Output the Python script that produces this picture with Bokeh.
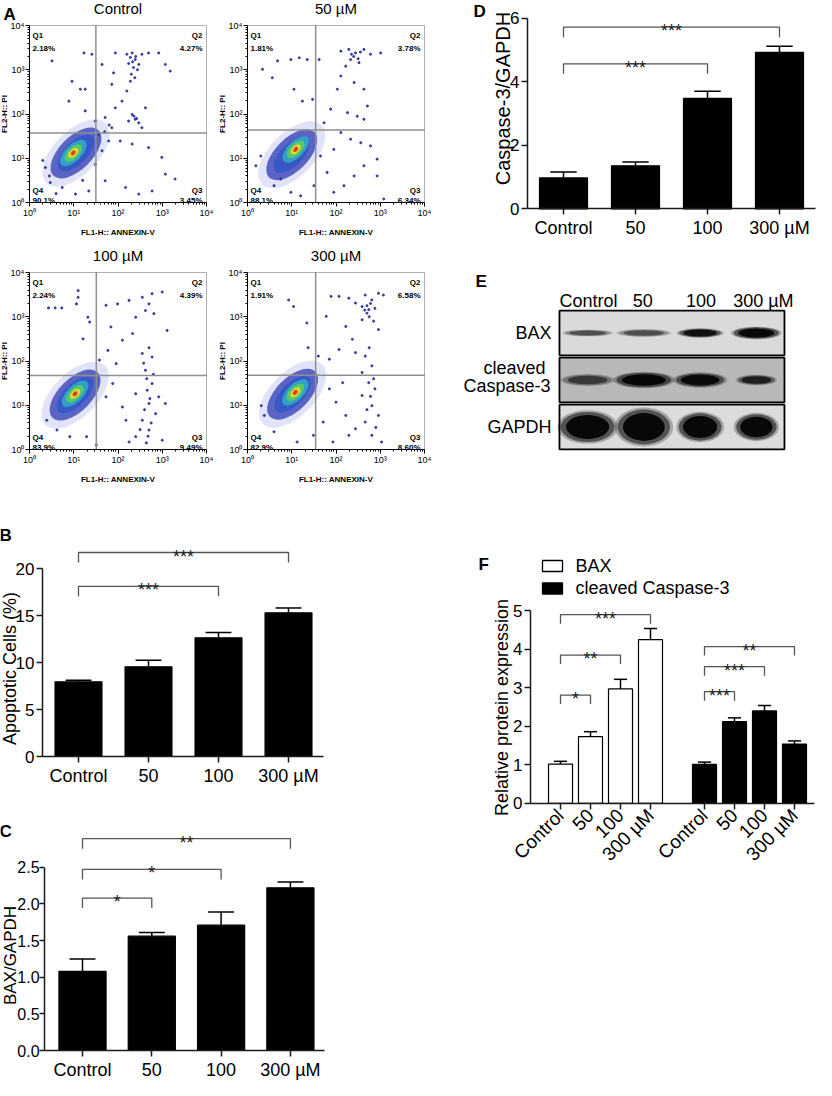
import math
from bokeh.plotting import figure
from bokeh.models import Range1d, FixedTicker, Label, Spacer, BoxAnnotation
from bokeh.layouts import row, column
from bokeh.embed import file_html
from bokeh.resources import INLINE

FONT = "Liberation Sans"

# ---------------- data ----------------
dose_labels = ["Control", "50", "100", "300 µM"]

# A: flow cytometry (log10 units)
flow_titles = ["Control", "50 µM", "100 µM", "300 µM"]
flow_q1 = ["2.18%", "1.81%", "2.24%", "1.91%"]
flow_q2 = ["4.27%", "3.78%", "4.39%", "6.58%"]
flow_q3 = ["3.45%", "6.34%", "9.49%", "8.60%"]
flow_q4 = ["90.1%", "88.1%", "83.9%", "82.9%"]
gate_x = [1.50, 1.54, 1.51, 1.54]
gate_y = [1.57, 1.64, 1.67, 1.68]
core_x = [1.05, 1.00, 1.03, 1.02]
core_y = [1.12, 1.08, 1.23, 1.25]
hot_x = [0.99, 1.09, 1.03, 1.08]
hot_y = [1.12, 1.20, 1.26, 1.29]
decade_labels = ["10⁰", "10¹", "10²", "10³", "10⁴"]

ctrl_pts = [(0.51, 3.20), (1.23, 3.38), (1.41, 3.35), (0.96, 2.74), (1.15, 2.56), (1.26, 2.56),
            (0.89, 2.29), (1.64, 3.12), (1.90, 2.93), (1.94, 3.38), (2.20, 3.35), (2.32, 3.38),
            (2.39, 3.23), (2.54, 3.35), (2.69, 3.38), (2.92, 3.38), (3.07, 3.12), (3.18, 2.97),
            (2.24, 3.14), (2.35, 3.05), (2.47, 3.12), (2.28, 2.74), (2.20, 2.52), (1.86, 2.67),
            (2.09, 2.29), (2.32, 1.99), (2.39, 1.88), (2.47, 1.80), (2.24, 1.84), (2.54, 1.69),
            (2.62, 2.14), (1.94, 2.14), (1.71, 1.92), (1.86, 1.69), (2.05, 1.39), (2.32, 1.32),
            (2.69, 1.24), (2.99, 1.02), (3.07, 0.64), (3.29, 0.53), (2.77, 0.26), (2.47, 0.19),
            (2.17, 0.34), (1.71, 0.49), (1.49, 0.86), (1.64, 1.17), (1.79, 1.39), (1.04, 0.19),
            (0.74, 0.34), (1.34, 0.26), (0.47, 0.45), (0.36, 0.79), (1.56, 1.54), (1.49, 1.84),
            (1.26, 2.07), (2.28, 3.28), (2.40, 3.30), (2.33, 3.18), (2.44, 3.00), (2.30, 2.90),
            (2.38, 2.82), (2.36, 1.95), (2.42, 1.90), (0.30, 0.95), (0.45, 0.60), (1.70, 1.60),
            (1.80, 1.75), (0.60, 0.20), (1.20, 0.50)]
d50_pts = [(0.34, 3.01), (0.56, 2.82), (0.68, 3.20), (0.98, 3.23), (1.17, 3.27), (1.35, 3.23),
           (1.62, 3.23), (1.05, 2.56), (1.24, 2.29), (1.47, 2.33), (2.11, 3.42), (2.29, 3.46),
           (2.44, 3.38), (2.63, 3.46), (2.78, 3.35), (3.01, 3.38), (2.33, 3.23), (2.52, 3.16),
           (2.22, 3.08), (2.11, 2.86), (2.03, 2.56), (2.41, 2.71), (2.63, 2.56), (2.71, 2.18),
           (2.48, 1.95), (2.63, 1.88), (2.26, 2.03), (1.88, 2.11), (1.73, 1.80), (2.11, 1.58),
           (2.33, 1.43), (2.56, 1.35), (2.78, 1.28), (2.93, 0.98), (2.63, 0.83), (2.41, 0.60),
           (2.18, 0.38), (1.95, 0.23), (1.80, 0.68), (1.65, 1.05), (1.95, 1.20), (1.50, 0.38),
           (1.20, 0.15), (0.98, 0.23), (0.19, 0.83), (0.30, 1.05), (0.60, 0.38), (0.75, 0.53),
           (2.93, 0.60), (3.08, 0.08), (2.40, 3.30), (2.50, 3.25), (2.35, 3.35), (2.55, 3.40)]
d100_pts = [(0.43, 3.20), (0.58, 3.20), (0.73, 3.20), (1.10, 3.59), (1.10, 3.44), (1.06, 3.29),
            (1.21, 2.50), (1.32, 2.99), (1.36, 2.88), (1.73, 3.26), (1.99, 3.29), (2.25, 3.37),
            (2.55, 3.44), (2.77, 3.52), (3.00, 3.56), (2.70, 3.29), (2.62, 3.14), (2.81, 3.07),
            (2.40, 2.99), (3.11, 2.69), (1.84, 2.77), (2.33, 2.62), (2.10, 2.47), (1.77, 2.24),
            (1.58, 2.02), (1.96, 1.94), (2.55, 2.17), (2.77, 2.09), (2.62, 1.79), (2.77, 1.49),
            (2.66, 1.34), (2.92, 1.19), (2.70, 1.04), (2.85, 0.81), (2.55, 0.66), (2.70, 0.44),
            (2.40, 0.29), (2.25, 0.17), (3.00, 0.21), (2.10, 0.96), (1.88, 1.49), (1.73, 1.19),
            (2.18, 0.66), (2.40, 1.26), (3.07, 1.04), (0.39, 0.66), (0.91, 0.29), (0.62, 0.44),
            (1.29, 0.29), (1.51, 0.10), (2.65, 1.60), (2.72, 1.15), (2.60, 0.90), (2.75, 0.60),
            (2.68, 0.30), (2.58, 1.95), (2.80, 1.70), (2.70, 2.30), (2.64, 0.15), (2.50, 0.45)]
d300_pts = [(0.93, 3.38), (1.04, 3.23), (1.34, 2.86), (1.37, 2.30), (1.60, 2.11), (1.78, 3.01),
            (1.89, 3.46), (2.07, 3.46), (2.29, 3.42), (2.44, 3.31), (2.59, 3.23), (2.66, 3.49),
            (2.81, 3.38), (2.96, 3.53), (3.07, 3.49), (2.70, 3.08), (2.59, 2.93), (2.74, 3.16),
            (2.88, 3.19), (2.22, 2.78), (2.37, 2.49), (2.07, 2.26), (1.85, 2.04), (2.44, 2.19),
            (2.66, 2.11), (2.81, 1.89), (2.59, 1.74), (2.74, 1.51), (2.88, 1.37), (2.59, 1.22),
            (2.81, 0.99), (2.96, 0.77), (2.66, 0.62), (2.44, 0.47), (2.81, 0.32), (3.03, 0.17),
            (2.22, 0.77), (2.00, 1.07), (1.85, 1.37), (2.15, 1.51), (2.29, 0.32), (1.93, 0.17),
            (1.71, 0.62), (1.49, 0.32), (1.12, 0.17), (0.38, 0.77), (0.31, 0.99), (0.60, 0.40),
            (2.96, 2.71), (2.70, 3.25), (2.78, 3.30), (2.65, 3.15), (2.75, 3.00), (2.85, 2.90),
            (2.78, 1.20), (2.85, 1.60), (2.70, 0.90), (2.90, 0.50), (2.75, 2.30)]
flow_points = [ctrl_pts, d50_pts, d100_pts, d300_pts]

# B: apoptotic cells (%)
apop_mean = [7.95, 9.54, 12.63, 15.29]
apop_sem = [0.15, 0.70, 0.57, 0.51]
apop_sig = [(0, 2, 18.1, "***"), (0, 3, 21.7, "***")]

# C: BAX/GAPDH
baxr_mean = [1.08, 1.56, 1.71, 2.22]
baxr_sem = [0.17, 0.05, 0.18, 0.08]
baxr_sig = [(0, 1, 2.08, "*"), (0, 2, 2.47, "*"), (0, 3, 2.89, "**")]

# D: Caspase-3/GAPDH
caspr_mean = [0.97, 1.35, 3.47, 4.92]
caspr_sem = [0.19, 0.12, 0.23, 0.19]
caspr_sig = [(0, 2, 4.56, "***"), (0, 3, 5.71, "***")]

# E: western blot band appearance (lane-width / row-height fractions, intensity)
blot_rows = ["BAX", "cleaved Caspase-3", "GAPDH"]
bax_band_w = [0.82, 0.89, 0.75, 0.80]
bax_band_h = [0.13, 0.15, 0.18, 0.24]
bax_band_i = [0.50, 0.50, 0.90, 1.00]
casp_band_w = [0.88, 0.98, 0.86, 0.66]
casp_band_h = [0.23, 0.31, 0.29, 0.20]
casp_band_i = [0.55, 1.00, 0.95, 0.75]
gapdh_band_w = [0.96, 0.93, 0.76, 0.72]
gapdh_band_h = [0.64, 0.74, 0.58, 0.54]
gapdh_band_i = [1.0, 1.0, 1.0, 1.0]
blot_bg = ["#dadada", "#b8b8b8", "#dcdcdc"]

# F: relative protein expression
rel_bax_mean = [1.02, 1.73, 2.97, 4.25]
rel_bax_sem = [0.07, 0.13, 0.25, 0.29]
rel_casp_mean = [1.01, 2.12, 2.40, 1.54]
rel_casp_sem = [0.06, 0.10, 0.14, 0.08]
rel_bax_sig = [(0, 1, 2.81, "*"), (0, 2, 3.85, "**"), (0, 3, 4.90, "***")]
rel_casp_sig = [(0, 1, 2.90, "***"), (0, 2, 3.55, "***"), (0, 3, 4.07, "**")]
legend_names = ["BAX", "cleaved Caspase-3"]


# ---------------- helpers ----------------
def fig_at(w, h, X0, Y0, xmap, ymap, axes=True):
    """Figure whose frame fills the whole canvas; xmap/ymap = (data value, page px, px per unit)."""
    dx, P0, sx = xmap
    dy, Q0, sy = ymap
    xr = (dx + (X0 - P0) / sx, dx + (X0 + w - P0) / sx)
    yr = (dy + (Q0 - (Y0 + h)) / sy, dy + (Q0 - Y0) / sy)
    kw = {} if axes else dict(x_axis_location=None, y_axis_location=None)
    p = figure(width=w, height=h, x_range=Range1d(*xr), y_range=Range1d(*yr),
               output_backend="svg", toolbar_location=None,
               min_border_left=0, min_border_right=0, min_border_top=0, min_border_bottom=0,
               **kw)
    p.grid.visible = False
    p.outline_line_color = None
    p.background_fill_color = "white"
    p.border_fill_color = "white"

    def fx(X):
        return dx + (X - P0) / sx

    def fy(Y):
        return dy + (Q0 - Y) / sy
    return p, fx, fy


def lab(p, x, y, text, size="18px", align="center", baseline="middle", bold=False,
        angle=0.0, xo=0, yo=0, color="black"):
    p.add_layout(Label(x=x, y=y, x_offset=xo, y_offset=yo, text=text, angle=angle,
                       text_font=FONT, text_font_size=size, text_align=align,
                       text_baseline=baseline, text_color=color,
                       text_font_style="bold" if bold else "normal"))


def style_axes(p, xticks, xlabels, xbounds, yticks, ylabels, ybounds,
               xsize="18px", ysize="17px", orient=None, ystandoff=2, ytick=6):
    xa, ya = p.xaxis[0], p.yaxis[0]
    xa.fixed_location = 0
    ya.fixed_location = xbounds[0]
    xa.ticker = FixedTicker(ticks=xticks)
    xa.major_label_overrides = {t: s for t, s in zip(xticks, xlabels)}
    ya.ticker = FixedTicker(ticks=yticks)
    ya.major_label_overrides = {t: s for t, s in zip(yticks, ylabels)}
    xa.bounds = xbounds
    ya.bounds = ybounds
    for ax in (xa, ya):
        ax.axis_line_color = "#1a1a1a"
        ax.axis_line_width = 1.5
        ax.major_tick_line_color = "#1a1a1a"
        ax.major_tick_line_width = 1.5
        ax.major_tick_out = 6
        ax.major_tick_in = 0
        ax.minor_tick_line_color = None
        ax.major_label_text_font = FONT
        ax.major_label_text_color = "black"
    ya.major_tick_out = ytick
    xa.major_label_standoff = 3
    ya.major_label_standoff = ystandoff
    xa.major_label_text_font_size = xsize
    ya.major_label_text_font_size = ysize
    if orient is not None:
        xa.major_label_orientation = orient


def draw_bars(p, xs, means, sems, bw, fill, sig, ypx, drop_px=10.0):
    p.vbar(x=xs, top=means, bottom=0, width=bw, fill_color=fill,
           line_color="black", line_width=1.2)
    tops = [m + s for m, s in zip(means, sems)]
    p.segment(x0=xs, y0=means, x1=xs, y1=tops, line_color="black", line_width=1.5)
    cw = bw * 0.55
    p.segment(x0=[x - cw / 2 for x in xs], y0=tops, x1=[x + cw / 2 for x in xs], y1=tops,
              line_color="black", line_width=1.5)
    drop = drop_px / ypx
    for i, j, lev, st in sig:
        p.line([xs[i], xs[i], xs[j], xs[j]], [lev - drop, lev, lev, lev - drop],
               line_color="#555555", line_width=1.3)
        lab(p, (xs[i] + xs[j]) / 2, lev, st, size="18px", baseline="alphabetic",
            yo=-4, color="#222222")


# ---------------- A: flow panels ----------------
SC = 44.25
decades = [0, 1, 2, 3, 4]
minor = [d + math.log10(k) for d in range(4) for k in range(2, 10)]
core_layers = [  # (width, height, color, alpha, centred on hot spot)
    (1.90, 1.00, "#5a66d6", 0.18, False),
    (1.45, 0.74, "#2433b0", 0.72, False),
    (1.05, 0.50, "#2f55c8", 0.80, False),
    (0.76, 0.37, "#2fb5c8", 0.78, True),
    (0.50, 0.26, "#5fd05a", 0.85, True),
    (0.28, 0.16, "#e8dc30", 0.92, True),
    (0.13, 0.09, "#ee3a1c", 1.00, True),
]


def flow_fig(i, w, h, X0, Y0, left_px, bottom_px, letter=None):
    p, fx, fy = fig_at(w, h, X0, Y0, (0, left_px, SC), (0, bottom_px, SC))
    xa, ya = p.xaxis[0], p.yaxis[0]
    xa.fixed_location = 0
    ya.fixed_location = 0
    for ax in (xa, ya):
        ax.bounds = (0, 4)
        ax.ticker = FixedTicker(ticks=decades, minor_ticks=minor)
        ax.major_label_overrides = {d: s for d, s in zip(decades, decade_labels)}
        ax.axis_line_color = "black"
        ax.major_tick_line_color = "black"
        ax.minor_tick_line_color = "black"
        ax.major_tick_out = 4
        ax.major_tick_in = 0
        ax.minor_tick_out = 2
        ax.minor_tick_in = 0
        ax.major_label_text_font = FONT
        ax.major_label_text_font_size = "9px"
        ax.major_label_text_color = "black"
        ax.major_label_standoff = 1
    for (ew, eh, col, a, hot) in core_layers:
        cx = hot_x[i] if hot else core_x[i]
        cy = hot_y[i] if hot else core_y[i]
        p.ellipse(x=[cx], y=[cy], width=ew, height=eh, angle=math.pi / 4,
                  fill_color=col, fill_alpha=a, line_color=None)
    pts = flow_points[i]
    p.scatter([q[0] for q in pts], [q[1] for q in pts], size=2.1,
              color="#2b2f96", alpha=0.9)
    p.segment(x0=[gate_x[i]], y0=[0], x1=[gate_x[i]], y1=[4], line_color="#8f8f8f", line_width=1.5)
    p.segment(x0=[0], y0=[gate_y[i]], x1=[4], y1=[gate_y[i]], line_color="#8f8f8f", line_width=1.5)
    p.add_layout(BoxAnnotation(left=0, right=4, bottom=0, top=4, fill_color=None,
                               line_color="black", line_width=1))
    qs = "8px"
    lab(p, 0, 4, "Q1", qs, "left", "alphabetic", True, xo=3, yo=-10)
    lab(p, 0, 4, flow_q1[i], qs, "left", "alphabetic", True, xo=3, yo=-23)
    lab(p, 4, 4, "Q2", qs, "right", "alphabetic", True, xo=-4, yo=-10)
    lab(p, 4, 4, flow_q2[i], qs, "right", "alphabetic", True, xo=-4, yo=-23)
    lab(p, 0, 0, "Q4", qs, "left", "alphabetic", True, xo=3, yo=12)
    lab(p, 0, 0, flow_q4[i], qs, "left", "alphabetic", True, xo=3, yo=2)
    lab(p, 4, 0, "Q3", qs, "right", "alphabetic", True, xo=-4, yo=12)
    lab(p, 4, 0, flow_q3[i], qs, "right", "alphabetic", True, xo=-4, yo=2)
    lab(p, 2, 4, flow_titles[i], "15px", yo=17)
    lab(p, 2, 0, "FL1-H:: ANNEXIN-V", "8px", bold=True, yo=-30)
    lab(p, 0, 2, "FL2-H:: PI", "8px", bold=True, angle=math.pi / 2, xo=-25)
    if letter:
        lab(p, 0, 4, letter, "17px", "left", "middle", True, xo=-26, yo=11)
    return p


pA1 = flow_fig(0, 214, 245, 8, 8, 37, 210, letter="A")
pA2 = flow_fig(1, 246, 245, 222, 8, 255, 210)
pA3 = flow_fig(2, 214, 247, 8, 253, 37, 457)
pA4 = flow_fig(3, 246, 247, 222, 253, 255, 457)

xs4 = list(range(len(dose_labels)))

# ---------------- B ----------------
pB, bfx, bfy = fig_at(460, 300, 8, 500, (0, 86, 70.0), (0, 764, 9.4))
style_axes(pB, xs4, dose_labels, (-0.514, 3.5), [0, 5, 10, 15, 20],
           ["0", "5", "10", "15", "20"], (0, 20))
draw_bars(pB, xs4, apop_mean, apop_sem, 0.67, "black", apop_sig, 9.4)
lab(pB, bfx(7), bfy(543), "B", "17px", "left", "middle", True)
lab(pB, bfx(17.5), bfy(676), "Apoptotic Cells (%)", "18px", angle=math.pi / 2)

# ---------------- C ----------------
pC, cfx, cfy = fig_at(460, 288, 8, 800, (0, 90, 69.3), (0, 1058, 73.3))
cticks = [0, 0.5, 1, 1.5, 2, 2.5]
style_axes(pC, xs4, dose_labels, (-0.548, 3.492), cticks,
           ["%.1f" % t for t in cticks], (0, 2.5), ysize="16px", ystandoff=0, ytick=5)
draw_bars(pC, xs4, baxr_mean, baxr_sem, 0.68, "black", baxr_sig, 73.3)
lab(pC, cfx(7), cfy(839), "C", "17px", "left", "middle", True)
lab(pC, cfx(18), cfy(963), "BAX/GAPDH", "17px", angle=math.pi / 2)

# ---------------- D ----------------
pD, dfx, dfy = fig_at(356, 242, 468, 8, (0, 571, 72.0), (0, 216.3, 31.8))
style_axes(pD, xs4, dose_labels, (-0.5, 3.5), [0, 2, 4, 6], ["0", "2", "4", "6"], (0, 6))
draw_bars(pD, xs4, caspr_mean, caspr_sem, 0.667, "black", caspr_sig, 31.8)
lab(pD, dfx(481), dfy(19), "D", "17px", "left", "middle", True)
lab(pD, dfx(510), dfy(106), "Caspase-3/GAPDH", "20px", angle=math.pi / 2)

# ---------------- E ----------------
pE, efx, efy = fig_at(356, 220, 468, 250, (0, 595.1, 56.25), (0, 340.5, -47.0), axes=False)
nl = len(dose_labels)
rows_y = list(range(len(blot_rows)))
pE.rect(x=[(nl - 1) / 2] * 3, y=rows_y, width=nl, height=0.95,
        fill_color=blot_bg, line_color=None)
band_layers = [(1.12, 0.25), (1.0, 0.5), (0.8, 0.9)]
bands = [(bax_band_w, bax_band_h, bax_band_i),
         (casp_band_w, casp_band_h, casp_band_i),
         (gapdh_band_w, gapdh_band_h, gapdh_band_i)]
for r, (bw_, bh_, bi_) in enumerate(bands):
    for s, a in band_layers:
        pE.ellipse(x=xs4, y=[r] * nl, width=[v * s for v in bw_], height=[v * s for v in bh_],
                   fill_color="black", fill_alpha=[a * v for v in bi_], line_color=None)
pE.rect(x=[(nl - 1) / 2] * 3, y=rows_y, width=nl, height=0.95,
        fill_color=None, line_color="black", line_width=1.8)
lab(pE, efx(483), efy(289), "E", "17px", "left", "middle", True)
lane_shift = [1, -1, 1, 7]
for k, name in enumerate(dose_labels):
    lab(pE, k, efy(308), name, "18px", xo=lane_shift[k])
lab(pE, efx(559), 0, blot_rows[0], "18px", "right")
lab(pE, efx(553), efy(375), "cleaved", "18px", "right")
lab(pE, efx(558), efy(393), "Caspase-3", "18px", "right")
lab(pE, efx(559), 2, blot_rows[2], "18px", "right")

# ---------------- F ----------------
slot, gap = 5, 24
f_bax_x = [k * slot for k in range(nl)]
f_casp_x = [gap + k * slot for k in range(nl)]
fpx = 38.5
pF, ffx, ffy = fig_at(356, 418, 468, 470, (0, 568, 6.0), (0, 810.8, fpx))
style_axes(pF, f_bax_x + f_casp_x, dose_labels + dose_labels, (-5, 42.33),
           [0, 1, 2, 3, 4, 5], ["0", "1", "2", "3", "4", "5"], (0, 5),
           xsize="19px", orient=math.pi / 4)
draw_bars(pF, f_bax_x, rel_bax_mean, rel_bax_sem, 4, "white", rel_bax_sig, fpx, 9.0)
draw_bars(pF, f_casp_x, rel_casp_mean, rel_casp_sem, 4, "black", rel_casp_sig, fpx, 9.0)
# legend
pF.rect(x=[ffx(560)] * 2, y=[ffy(573.5), ffy(596)], width=20 / 6, height=11 / fpx,
        fill_color=["white", "black"], line_color="black", line_width=1.3)
lab(pF, ffx(583), ffy(573.5), legend_names[0], "18px", "left")
lab(pF, ffx(583), ffy(595.5), legend_names[1], "18px", "left")
lab(pF, ffx(486), ffy(572), "F", "17px", "left", "middle", True)
lab(pF, ffx(509), ffy(715), "Relative protein expression", "18px", angle=math.pi / 2)

left = column(row(pA1, pA2), row(pA3, pA4), pB, pC)
right = column(pD, pE, pF, Spacer(width=356, height=200))
layout = row(left, right)

open("out.html", "w").write(file_html(layout, INLINE))
